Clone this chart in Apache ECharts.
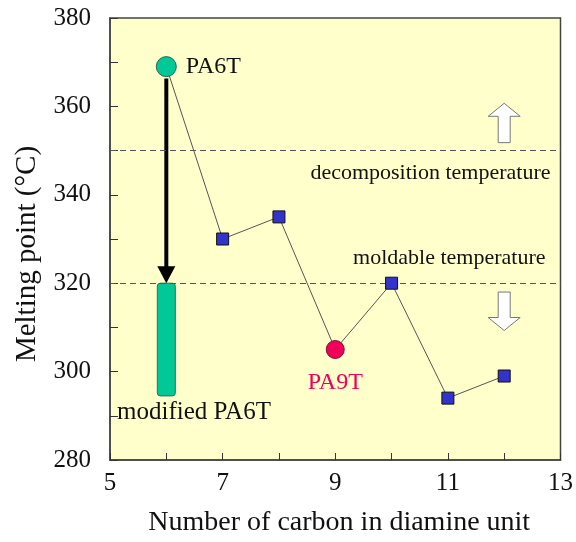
<!DOCTYPE html>
<html><head><meta charset="utf-8">
<script src="https://cdn.jsdelivr.net/npm/echarts@6/dist/echarts.min.js"></script>
<style>html,body{margin:0;padding:0;background:#fff}#c{width:576px;height:542px}</style>
</head><body><div id="c"></div>
<script>
// ---- data ----
const carbons = [6, 7, 8, 9, 10, 11, 12];
const meltingPoints = [369, 330, 335, 305, 320, 294, 299];
const pointNames = ['PA6T', '', '', 'PA9T', '', '', ''];
const xTickLabels = [5, 7, 9, 11, 13];
const yTickLabels = [280, 300, 320, 340, 360, 380];
const referenceLevels = [350, 320];
const referenceNames = ['decomposition temperature', 'moldable temperature'];
const modifiedBar = [6, 320, 294.5];          // x, top, bottom
const modifiedName = 'modified PA6T';
const shiftArrow = [6, 366.3, 320];           // x, from, to
const hollowArrows = [[12, 360.7, 351.8], [12, 309.3, 318]]; // x, tip, tail

const SERIF = '"Liberation Serif", "Times New Roman", serif';
const TEAL = '#00C896', RED = '#F0005A', BLUE = '#3333CC';

const lineData = carbons.map((c, i) => {
  const item = { value: [c, meltingPoints[i]] };
  if (pointNames[i] === 'PA6T') {
    item.symbol = 'circle'; item.symbolSize = 20;
    item.itemStyle = { color: TEAL, borderColor: '#2F5F50', borderWidth: 1 };
    item.label = { show: true, formatter: pointNames[i], position: 'right', distance: 9,
      color: '#111', fontSize: 24, fontFamily: SERIF };
  } else if (pointNames[i] === 'PA9T') {
    item.symbol = 'circle'; item.symbolSize = 18;
    item.itemStyle = { color: RED, borderColor: '#7a1030', borderWidth: 1 };
    item.label = { show: true, formatter: pointNames[i], position: 'bottom', distance: 12,
      color: RED, fontSize: 24, fontFamily: SERIF };
  } else {
    item.symbol = 'rect'; item.symbolSize = 12;
    item.itemStyle = { color: BLUE, borderColor: '#111', borderWidth: 1 };
  }
  return item;
});

const chart = echarts.init(document.getElementById('c'), null, { renderer: 'canvas' });
chart.setOption({
  animation: false,
  backgroundColor: '#fff',
  grid: { left: 110, right: 11, top: 18, bottom: 74, show: true,
    backgroundColor: '#FFFFCC', borderColor: '#444', borderWidth: 1.5 },
  xAxis: {
    type: 'value', min: 5, max: 13, interval: 1,
    name: 'Number of carbon in diamine unit', nameLocation: 'middle', nameGap: 49,
    nameTextStyle: { fontSize: 28, fontFamily: SERIF, color: '#111', padding: [0, 0, 0, 8] },
    axisLine: { show: true, lineStyle: { color: '#444', width: 1.5 } },
    axisTick: { show: true, inside: true, length: 7, lineStyle: { color: '#333', width: 1 } },
    axisLabel: { margin: 11, fontSize: 25, fontFamily: SERIF, color: '#111',
      formatter: v => xTickLabels.includes(v) ? String(v) : '' },
    splitLine: { show: false }
  },
  yAxis: {
    type: 'value', min: 280, max: 380, interval: 10,
    name: 'Melting point (°C)', nameLocation: 'middle', nameGap: 68, nameRotate: 90,
    nameTextStyle: { fontSize: 29, fontFamily: SERIF, color: '#111', padding: [0, 30, 0, 0] },
    axisLine: { show: true, lineStyle: { color: '#444', width: 1.5 } },
    axisTick: { show: true, inside: true, length: 8, lineStyle: { color: '#333', width: 1 } },
    axisLabel: { margin: 19, fontSize: 25, fontFamily: SERIF, color: '#111',
      formatter: v => yTickLabels.includes(v) ? String(v) : '' },
    splitLine: { show: false }
  },
  series: [
    { // modified PA6T bar
      type: 'custom', clip: false, silent: true, data: [modifiedBar],
      renderItem: (p, api) => {
        const top = api.coord([api.value(0), api.value(1)]);
        const bot = api.coord([api.value(0), api.value(2)]);
        return { type: 'group', children: [
          { type: 'rect', shape: { x: top[0] - 9, y: top[1], width: 18, height: bot[1] - top[1], r: 3 },
            style: { fill: TEAL, stroke: '#2F6F5A', lineWidth: 1 } },
          { type: 'text', x: api.coord([5, 0])[0] + 7, y: bot[1] + 17,
            style: { text: modifiedName, fill: '#111', font: '25px ' + SERIF,
              textAlign: 'left', textVerticalAlign: 'middle' } }
        ] };
      }
    },
    { // black arrow
      type: 'custom', clip: false, silent: true, data: [shiftArrow],
      renderItem: (p, api) => {
        const s = api.coord([api.value(0), api.value(1)]);
        const t = api.coord([api.value(0), api.value(2)]);
        const hh = 17, hw = 9;
        return { type: 'group', children: [
          { type: 'line', shape: { x1: s[0], y1: s[1], x2: t[0], y2: t[1] - hh + 1 },
            style: { stroke: '#000', lineWidth: 4 } },
          { type: 'polygon', shape: { points: [[t[0] - hw, t[1] - hh], [t[0] + hw, t[1] - hh], [t[0], t[1]]] },
            style: { fill: '#000' } }
        ] };
      }
    },
    { // hollow arrows
      type: 'custom', clip: false, silent: true, data: hollowArrows,
      renderItem: (p, api) => {
        const tip = api.coord([api.value(0), api.value(1)]);
        const tail = api.coord([api.value(0), api.value(2)]);
        const dir = Math.sign(tip[1] - tail[1]);
        const hh = 13, hw = 16, sw = 6;
        const cx = tip[0], hb = tip[1] - dir * hh;
        return { type: 'polygon', shape: { points: [
          [cx - sw, tail[1]], [cx - sw, hb], [cx - hw, hb], [cx, tip[1]],
          [cx + hw, hb], [cx + sw, hb], [cx + sw, tail[1]] ] },
          style: { fill: '#fff', stroke: '#777', lineWidth: 1 } };
      }
    },
    { // reference line labels
      type: 'custom', clip: false, silent: true,
      data: referenceLevels.map((v, i) => [13, v, i]),
      renderItem: (p, api) => {
        const c = api.coord([api.value(0), api.value(1)]);
        const i = api.value(2);
        const below = i === 0;
        return { type: 'text', x: c[0] - (below ? 10 : 15), y: c[1] + (below ? 23 : -25),
          style: { text: referenceNames[i], fill: '#111', font: '22px ' + SERIF,
            textAlign: 'right', textVerticalAlign: 'middle' } };
      }
    },
    { // melting point line
      type: 'line', data: lineData, z: 5,
      lineStyle: { color: '#555', width: 1 },
      emphasis: { disabled: true },
      markLine: { silent: true, symbol: 'none', label: { show: false },
        lineStyle: { type: [6, 4], color: '#555', width: 1 },
        data: referenceLevels.map(v => ({ yAxis: v })) }
    }
  ]
});
</script></body></html>
